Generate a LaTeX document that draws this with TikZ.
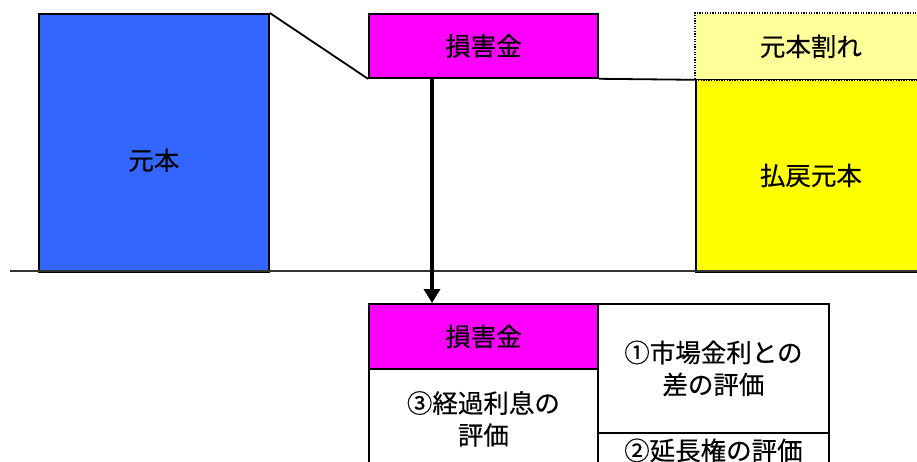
\documentclass[tikz,border=0pt]{standalone}
\usepackage{fontspec}
\newfontfamily\jp[FakeBold=0.4]{Noto Sans CJK JP}
\usetikzlibrary{arrows.meta,calc}
\definecolor{cblue}{HTML}{3366FF}
\definecolor{cmag}{HTML}{FF00FF}
\definecolor{cyel}{HTML}{FFFF00}
\definecolor{clyel}{HTML}{FFFF99}
\tikzset{
  box/.style={draw=black, line width=1.8pt, inner sep=0pt, anchor=north west, align=center,
    font=\jp\fontsize{25.5}{32}\selectfont, text=black},
  conn/.style={draw=black, line width=1.8pt},
  arr/.style={draw=black, line width=3.8pt, -{Triangle[width=16pt,length=14pt]}},
  base/.style={draw=black!80, line width=2pt}
}
\begin{document}
\begin{tikzpicture}[x=1pt,y=-1pt]
\useasboundingbox (0,0) rectangle (917,462);
\clip (0,0) rectangle (917,462);
\fill[white] (0,0) rectangle (917,462);
% top row
\node[box, fill=cblue, minimum width=230pt, minimum height=258pt, text height=58pt, text depth=4pt] (gen) at (38,13) {元本};
\node[box, fill=cmag, minimum width=229pt, minimum height=64pt] (dmg) at (368,13) {損害金};
\node[box, fill=cyel, minimum width=230pt, minimum height=193pt] (hara) at (695,78) {払戻元本};
\node[box, draw=none, fill=clyel, minimum width=230pt, minimum height=65pt] (ware) at (695,13) {元本割れ};
\draw[black, line width=1.8pt, dash pattern=on 1.3pt off 1.3pt]
  (ware.north east) -- (ware.north west) -- (ware.south west) -- (ware.south east);
% baseline
\coordinate (bl) at (10,271);
\coordinate (br) at (917,271);
\draw[base] (bl) -- (br);
% connectors
\draw[conn] (gen.north east) -- (dmg.south west);
\draw[conn] (dmg.south east) -- (ware.south west);
% bottom boxes
\node[box, fill=cmag, minimum width=229pt, minimum height=65pt] (dmg2) at (368,303) {損害金};
\node[box, fill=white, minimum width=229pt, minimum height=100pt] (keika) at (368,368) {③経過利息の\\評価};
\node[box, fill=white, minimum width=231pt, minimum height=129pt] (ichi) at (597,303) {①市場金利との\\差の評価};
\node[box, fill=white, minimum width=231pt, minimum height=35pt] (ni) at (597,432) {②延長権の評価};
% arrow
\coordinate (ax) at (432,0);
\draw[arr] (dmg.south west -| ax) -- (dmg2.north west -| ax);
\end{tikzpicture}
\end{document}
